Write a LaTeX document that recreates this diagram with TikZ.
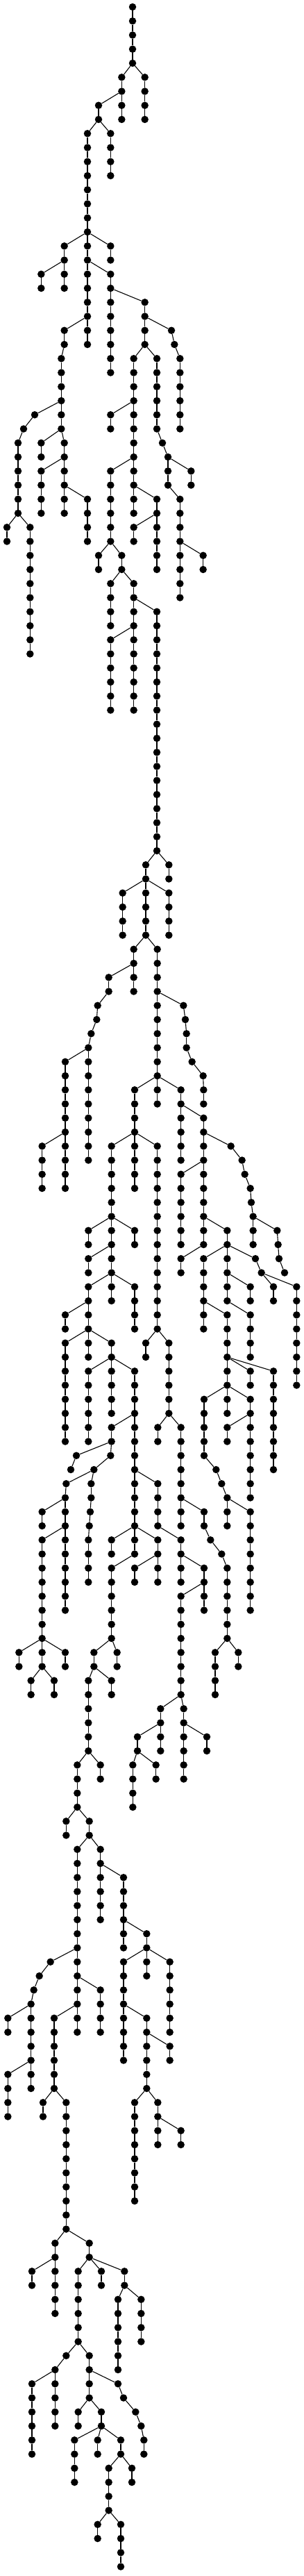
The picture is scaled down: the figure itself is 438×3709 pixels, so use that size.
\documentclass[tikz,border=0pt]{standalone}
\tikzset{
  dot/.style={circle,fill=black,inner sep=0pt,minimum size=10.5pt},
  edge/.style={line width=1.1pt}
}
% #1 parent, #2 column, #3 first level, #4 last level
\newcommand{\twig}[4]{%
  \foreach \l in {#3,...,#4}{%
    \pgfmathtruncatemacro{\k}{\l-1}%
    \node[dot] (n#2-\l) at ({#2/3},{-10-20.25*\l}) {};
    \ifnum\l=#3\relax \draw[edge] (n#1) -- (n#2-\l);\else \draw[edge] (n#2-\k) -- (n#2-\l);\fi
  }}
\begin{document}
\begin{tikzpicture}[x=1pt,y=1pt]
  \useasboundingbox (0,0) rectangle (438,-3709);
  \node[dot] (n573-0) at ({573/3},-10) {};
  \twig{573-0}{573}{1}{4}
  \twig{573-4}{526}{5}{8}
  \twig{573-4}{626}{5}{8}
  \twig{526-6}{426}{7}{8}
  \twig{426-8}{378}{9}{24}
  \twig{426-8}{478}{9}{12}
  \twig{378-16}{278}{17}{20}
  \twig{378-16}{478}{17}{18}
  \twig{278-18}{178}{19}{20}
  \twig{378-18}{478}{19}{26}
  \twig{478-20}{626}{21}{24}
  \twig{626-22}{741}{23}{23}
  \twig{741-23}{754}{24}{24}
  \twig{754-24}{778}{25}{30}
  \twig{378-22}{278}{23}{24}
  \twig{278-24}{265}{25}{30}
  \twig{265-28}{150}{29}{29}
  \twig{150-29}{102}{30}{30}
  \twig{102-30}{78}{31}{36}
  \twig{78-36}{30}{37}{38}
  \twig{78-36}{130}{37}{46}
  \twig{626-24}{578}{25}{36}
  \twig{578-28}{478}{29}{30}
  \twig{626-24}{678}{25}{30}
  \twig{678-30}{702}{31}{31}
  \twig{702-31}{726}{32}{34}
  \twig{726-32}{826}{33}{34}
  \twig{726-34}{778}{35}{42}
  \twig{778-38}{878}{39}{40}
  \twig{265-30}{178}{31}{32}
  \twig{265-30}{278}{31}{36}
  \twig{278-32}{178}{33}{36}
  \twig{278-34}{378}{35}{38}
  \twig{578-32}{478}{33}{38}
  \twig{578-34}{678}{35}{40}
  \twig{678-36}{578}{37}{38}
  \twig{478-38}{426}{39}{40}
  \twig{478-38}{526}{39}{40}
  \twig{526-40}{478}{41}{44}
  \twig{526-40}{578}{41}{50}
  \twig{578-42}{678}{43}{60}
  \twig{578-44}{478}{45}{50}
  % middle part
  \twig{678-60}{630}{61}{66}
  \twig{678-60}{730}{61}{62}
  \twig{630-62}{530}{63}{66}
  \twig{630-62}{730}{63}{66}
  \twig{630-66}{578}{67}{70}
  \twig{630-66}{680}{67}{78}
  \twig{578-68}{470}{69}{70}
  \twig{470-70}{422}{71}{71}
  \twig{422-71}{418}{72}{72}
  \twig{418-72}{394}{73}{73}
  \twig{394-73}{382}{74}{82}
  \twig{382-74}{282}{75}{84}
  \twig{282-80}{182}{81}{84}
  \twig{680-70}{793}{71}{71}
  \twig{793-71}{801}{72}{72}
  \twig{801-72}{806}{73}{74}
  \twig{806-74}{830}{75}{75}
  \twig{830-75}{878}{76}{76}
  \twig{878-76}{880}{77}{78}
  \twig{680-76}{582}{77}{84}
  \twig{582-80}{482}{81}{92}
  \twig{582-80}{680}{81}{94}
  \twig{680-76}{782}{77}{82}
  \twig{782-78}{880}{79}{88}
  \twig{880-80}{998}{81}{81}
  \twig{998-81}{1046}{82}{82}
  \twig{1046-82}{1058}{83}{83}
  \twig{1058-83}{1082}{84}{84}
  \twig{1082-84}{1086}{85}{85}
  \twig{1086-85}{1094}{86}{88}
  \twig{1094-86}{1198}{87}{87}
  \twig{1198-87}{1202}{88}{88}
  \twig{1202-88}{1206}{89}{89}
  \twig{1206-89}{1230}{90}{90}
  \twig{880-82}{782}{83}{88}
  \twig{482-86}{382}{87}{88}
  \twig{482-86}{582}{87}{88}
  \twig{880-86}{982}{87}{92}
  \twig{880-88}{782}{89}{90}
  \twig{982-88}{880}{89}{94}
  \twig{982-88}{1104}{89}{89}
  \twig{1104-89}{1130}{90}{90}
  \twig{1130-90}{1182}{91}{92}
  \twig{1130-90}{1282}{91}{98}
  \twig{482-88}{382}{89}{90}
  \twig{482-90}{382}{91}{96}
  \twig{482-90}{582}{91}{94}
  \twig{982-90}{1082}{91}{92}
  \twig{382-92}{282}{93}{94}
  \twig{880-92}{982}{93}{100}
  \twig{982-92}{1082}{93}{96}
  \twig{680-94}{630}{95}{96}
  \twig{680-94}{730}{95}{100}
  \twig{382-94}{282}{95}{102}
  \twig{382-94}{482}{95}{100}
  \twig{482-96}{382}{97}{102}
  \twig{482-96}{582}{97}{110}
  \twig{982-96}{1082}{97}{98}
  \twig{982-96}{1182}{97}{104}
  \twig{982-98}{882}{99}{103}
  \twig{982-98}{1082}{99}{106}
  \twig{1082-100}{982}{101}{102}
  \twig{582-100}{482}{101}{102}
  \twig{730-100}{682}{101}{102}
  \twig{730-100}{782}{101}{108}
  \twig{482-102}{330}{103}{103}
  \twig{330-103}{306}{104}{104}
  \twig{482-102}{478}{103}{103}
  \twig{478-103}{406}{104}{104}
  \twig{406-104}{286}{105}{105}
  \twig{286-105}{282}{106}{114}
  \twig{406-104}{394}{105}{106}
  \twig{394-106}{390}{107}{107}
  \twig{390-107}{386}{108}{108}
  \twig{386-108}{382}{109}{112}
  \twig{582-104}{682}{105}{108}
  \twig{882-103}{934}{104}{104}
  \twig{934-104}{958}{105}{105}
  \twig{958-105}{982}{106}{108}
  \twig{282-106}{182}{107}{108}
  \twig{782-106}{882}{107}{108}
  \twig{982-106}{1082}{107}{114}
  \twig{282-108}{182}{109}{118}
  \twig{582-108}{482}{109}{110}
  \twig{582-108}{682}{109}{112}
  \twig{682-108}{782}{109}{112}
  \twig{882-108}{910}{109}{109}
  \twig{910-109}{958}{110}{110}
  \twig{958-110}{982}{111}{116}
  \twig{582-110}{482}{111}{116}
  \twig{682-110}{582}{111}{112}
  \twig{782-110}{882}{111}{114}
  \twig{882-112}{782}{113}{120}
  \twig{182-116}{82}{117}{118}
  \twig{182-116}{282}{117}{118}
  \twig{482-116}{406}{117}{118}
  \twig{482-116}{506}{117}{118}
  \twig{982-116}{930}{117}{120}
  \twig{982-116}{1030}{117}{118}
  \twig{182-118}{134}{119}{120}
  \twig{182-118}{234}{119}{120}
  \twig{406-118}{382}{119}{124}
  \twig{406-118}{482}{119}{120}
  \twig{782-120}{694}{121}{124}
  \twig{782-120}{794}{121}{126}
  \twig{694-122}{594}{123}{124}
  \twig{794-122}{894}{123}{124}
  % lower part
  \twig{382-124}{334}{125}{128}
  \twig{382-124}{434}{125}{126}
  \twig{594-124}{574}{125}{128}
  \twig{594-124}{674}{125}{126}
  \twig{334-128}{286}{129}{130}
  \twig{334-128}{386}{129}{130}
  \twig{386-130}{334}{131}{144}
  \twig{386-130}{434}{131}{136}
  \twig{434-132}{534}{133}{138}
  \twig{534-136}{634}{137}{140}
  \twig{334-138}{218}{139}{139}
  \twig{218-139}{170}{140}{140}
  \twig{170-140}{146}{141}{141}
  \twig{146-141}{134}{142}{148}
  \twig{134-142}{34}{143}{144}
  \twig{134-146}{34}{147}{150}
  \twig{334-140}{434}{141}{144}
  \twig{334-142}{234}{143}{148}
  \twig{234-148}{186}{149}{150}
  \twig{234-148}{286}{149}{158}
  \twig{634-138}{534}{139}{146}
  \twig{634-138}{734}{139}{144}
  \twig{534-142}{634}{143}{148}
  \twig{634-144}{734}{145}{146}
  \twig{634-148}{582}{149}{156}
  \twig{634-148}{682}{149}{152}
  \twig{682-150}{782}{151}{152}
  \twig{286-158}{238}{159}{164}
  \twig{286-158}{386}{159}{160}
  \twig{238-160}{138}{161}{162}
  \twig{386-160}{338}{161}{166}
  \twig{386-160}{438}{161}{162}
  \twig{386-160}{538}{161}{162}
  \twig{538-162}{510}{163}{168}
  \twig{538-162}{610}{163}{166}
  \twig{338-166}{286}{167}{167}
  \twig{286-167}{238}{168}{172}
  \twig{338-166}{386}{167}{170}
  \twig{238-168}{138}{169}{174}
  \twig{386-168}{510}{169}{169}
  \twig{510-169}{534}{170}{170}
  \twig{534-170}{586}{171}{171}
  \twig{586-171}{610}{172}{172}
  \twig{610-172}{622}{173}{174}
  \twig{386-170}{338}{171}{172}
  \twig{386-170}{438}{171}{172}
  \twig{438-172}{322}{173}{176}
  \twig{438-172}{422}{173}{174}
  \twig{438-172}{522}{173}{174}
  \twig{522-174}{470}{175}{178}
  \twig{522-174}{570}{175}{176}
  \twig{470-178}{422}{179}{180}
  \twig{470-178}{522}{179}{182}
\end{tikzpicture}
\end{document}
